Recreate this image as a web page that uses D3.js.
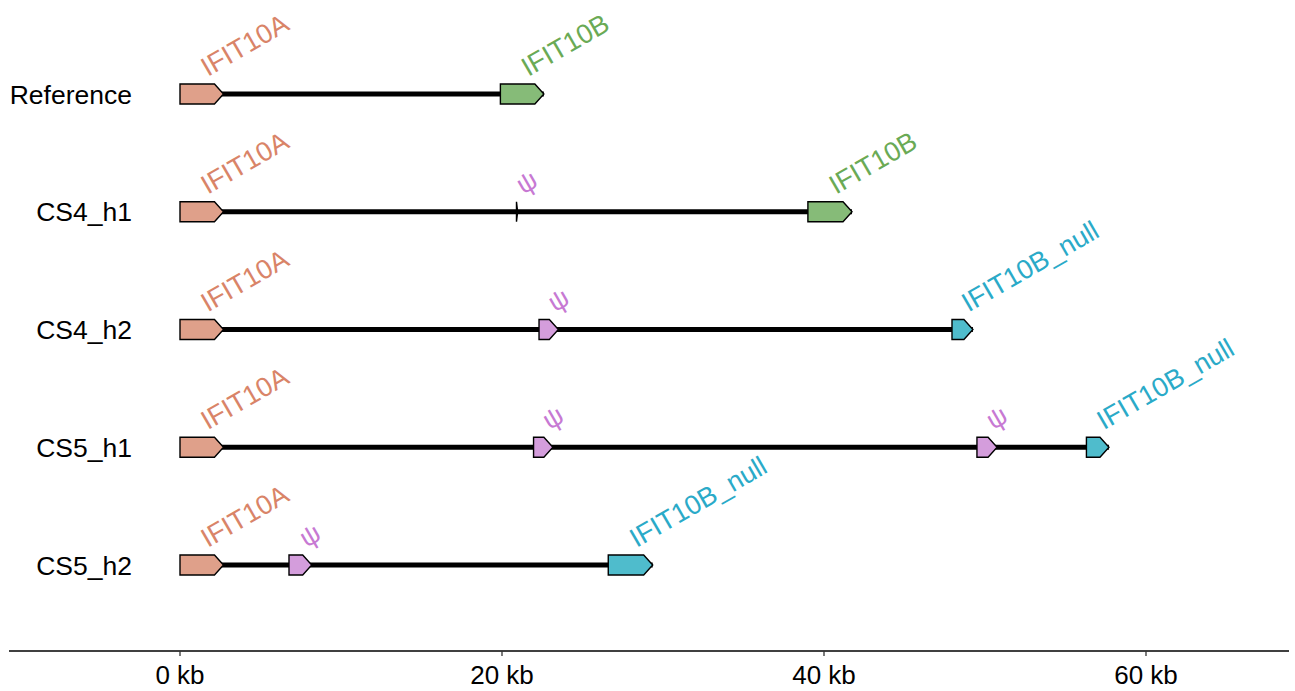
<!DOCTYPE html>
<html>
<head>
<meta charset="utf-8">
<script src="https://cdn.jsdelivr.net/npm/d3@7"></script>
<style>
  html, body { margin: 0; padding: 0; background: #fff; }
  svg text { font-family: "Liberation Sans", Arial, sans-serif; }
</style>
</head>
<body>
<svg id="chart" width="1295" height="691"></svg>
<script>
// Haplotypes, top to bottom
const haplotypes = ["Reference", "CS4_h1", "CS4_h2", "CS5_h1", "CS5_h2"];

// Gene records per haplotype: name, start (kb), end (kb), type
const geneHaplotype = ["Reference", "Reference",
                       "CS4_h1", "CS4_h1", "CS4_h1",
                       "CS4_h2", "CS4_h2", "CS4_h2",
                       "CS5_h1", "CS5_h1", "CS5_h1", "CS5_h1",
                       "CS5_h2", "CS5_h2", "CS5_h2"];
const geneLabel = ["IFIT10A", "IFIT10B",
                   "IFIT10A", "ψ", "IFIT10B",
                   "IFIT10A", "ψ", "IFIT10B_null",
                   "IFIT10A", "ψ", "ψ", "IFIT10B_null",
                   "IFIT10A", "ψ", "IFIT10B_null"];
const geneType = ["A", "B",
                  "A", "pseudo", "B",
                  "A", "pseudo", "null",
                  "A", "pseudo", "pseudo", "null",
                  "A", "pseudo", "null"];
const geneStart = [0, 19.9,
                   0, 20.9, 39.0,
                   0, 22.3, 47.95,
                   0, 21.96, 49.5, 56.3,
                   0, 6.77, 26.6];
const geneEnd = [2.7, 22.6,
                 2.7, 20.97, 41.74,
                 2.7, 23.5, 49.25,
                 2.7, 23.16, 50.75, 57.7,
                 2.7, 8.18, 29.36];

// Axis ticks
const tickValues = [0, 20, 40, 60];
const tickLabels = ["0 kb", "20 kb", "40 kb", "60 kb"];

// Colours per gene type: fill and label
const typeFill = { A: "#dfa08a", B: "#86bb78", pseudo: "#d49ddc", null: "#4fbccc" };
const typeText = { A: "#d98468", B: "#6aaa55", pseudo: "#c779d3", null: "#2aaac8" };

const genes = geneLabel.map((g, i) => ({
  hap: geneHaplotype[i], label: g, type: geneType[i],
  start: geneStart[i], end: geneEnd[i]
}));

const svg = d3.select("#chart");

const x = d3.scaleLinear().domain([0, 60]).range([180, 1146]);
const y = d3.scalePoint().domain(haplotypes).range([94, 565]);

const bodyH = 20;
const headLen = 9;

// Backbone line for each haplotype, from 0 to the end of its last gene
const backbone = haplotypes.map(h => ({
  hap: h,
  start: d3.min(genes.filter(g => g.hap === h), g => g.start),
  end: d3.max(genes.filter(g => g.hap === h), g => g.end)
}));

svg.append("g").selectAll("line")
  .data(backbone)
  .join("line")
  .attr("x1", d => x(d.start))
  .attr("x2", d => x(d.end))
  .attr("y1", d => y(d.hap))
  .attr("y2", d => y(d.hap))
  .attr("stroke", "#000")
  .attr("stroke-width", 5);

// Gene arrows
function arrowPath(d) {
  const x0 = x(d.start), x1 = x(d.end), cy = y(d.hap);
  const top = cy - bodyH / 2, bot = cy + bodyH / 2;
  const neck = Math.max(x0, x1 - headLen);
  return d3.line()([
    [x0, top], [neck, top], [x1, cy], [neck, bot], [x0, bot]
  ]) + "Z";
}

svg.append("g").selectAll("path")
  .data(genes)
  .join("path")
  .attr("d", arrowPath)
  .attr("fill", d => typeFill[d.type])
  .attr("stroke", "#000")
  .attr("stroke-width", 1.4)
  .attr("stroke-linejoin", "miter");

// Angled gene labels
svg.append("g").selectAll("text")
  .data(genes)
  .join("text")
  .attr("transform", d => `translate(${(x(d.start) + x(d.end)) / 2 + 6},${y(d.hap) - 17}) rotate(-30)`)
  .attr("font-size", 27)
  .attr("fill", d => typeText[d.type])
  .text(d => d.label);

// Haplotype labels
svg.append("g").selectAll("text")
  .data(haplotypes)
  .join("text")
  .attr("x", 132)
  .attr("y", d => y(d))
  .attr("dy", "0.36em")
  .attr("text-anchor", "end")
  .attr("font-size", 26.5)
  .attr("fill", "#000")
  .text(d => d);

// Bottom axis
const axis = svg.append("g").attr("transform", "translate(0,651)");
axis.append("line")
  .attr("x1", 9).attr("x2", 1289)
  .attr("stroke", "#000").attr("stroke-width", 1.3);
const ticks = axis.selectAll("g.tick")
  .data(tickValues)
  .join("g")
  .attr("class", "tick")
  .attr("transform", d => `translate(${x(d)},0)`);
ticks.append("line").attr("y2", 5).attr("stroke", "#333").attr("stroke-width", 1.3);
ticks.append("text")
  .attr("y", 24)
  .attr("dy", "0.36em")
  .attr("text-anchor", "middle")
  .attr("font-size", 26)
  .attr("fill", "#000")
  .text((d, i) => tickLabels[i]);
</script>
</body>
</html>
